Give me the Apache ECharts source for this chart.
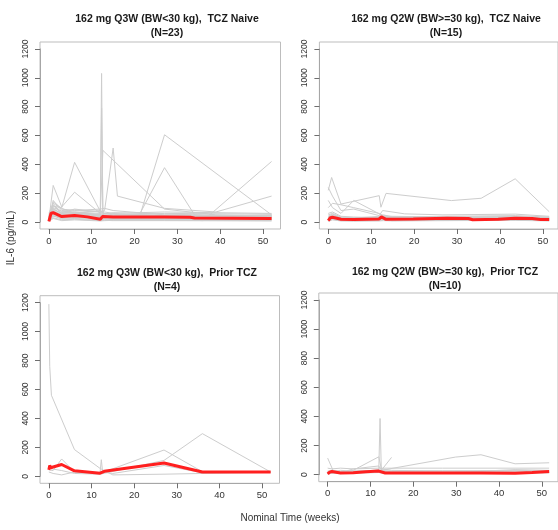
<!DOCTYPE html>
<html>
<head>
<meta charset="utf-8">
<script src="https://cdn.jsdelivr.net/npm/echarts@6/dist/echarts.min.js"></script>
<style>
  html, body { margin: 0; padding: 0; background: #ffffff; }
  #chart { width: 558px; height: 530px; }
</style>
</head>
<body>
<div id="chart"></div>
<script>
// Axis ranges and tick spacing shared by all four panels
const xTickMin = 0, xTickMax = 50, xTickStep = 10;
const yTickMin = 0, yTickMax = 1200, yTickStep = 200;
// Plot frame range (data range padded by 4% on each side)
const xFrame = [-2.08, 54.08];
const yFrame = [-48, 1248];

const panelTitles = [
  '162 mg Q3W (BW<30 kg),  TCZ Naive\n(N=23)',
  '162 mg Q2W (BW>=30 kg),  TCZ Naive\n(N=15)',
  '162 mg Q3W (BW<30 kg),  Prior TCZ\n(N=4)',
  '162 mg Q2W (BW>=30 kg),  Prior TCZ\n(N=10)'
];

// Individual IL-6 profiles, [week, pg/mL]
const q3wNaiveSubjects = [
  [[0,15],[1,60],[3,45],[6,55],[12,40],[12.3,1030],[12.6,45],[15,40],[27,35],[39,30],[52,30]],
  [[0,20],[1,90],[3,60],[6,70],[12,50],[12.3,790],[12.6,60],[15,55],[27,45],[52,40]],
  [[0,25],[1,75],[3,50],[6,60],[12,55],[12.6,497],[27,90],[39,50],[52,45]],
  [[0,30],[1,110],[3,100],[6,414],[12,75],[13,60],[15,50],[27,40],[52,35]],
  [[0,20],[1,254],[3,105],[6,207],[12,60],[13,45],[15,40],[27,30],[52,25]],
  [[0,10],[1,150],[3,80],[6,85],[12,70],[13,80],[15,513],[16,180],[27,95],[39,70],[52,180]],
  [[0,40],[1,120],[3,70],[6,60],[12,45],[13,30],[15,25],[21,20],[27,605],[52,50]],
  [[0,35],[1,95],[3,55],[6,50],[12,40],[15,35],[21,45],[27,377],[34,50],[52,30]],
  [[0,25],[1,70],[3,40],[6,45],[12,30],[15,25],[27,20],[36,10],[52,420]],
  [[0,5],[1,40],[3,30],[6,35],[12,25],[13,30],[15,28],[27,25],[39,20],[52,20]],
  [[0,60],[1,130],[3,90],[6,80],[12,90],[13,95],[15,80],[27,50],[52,40]],
  [[0,10],[1,45],[3,20],[6,25],[12,15],[13,20],[15,18],[27,15],[52,15]],
  [[0,30],[1,85],[3,65],[6,90],[12,70],[13,60],[15,55],[27,45],[39,40],[52,50]],
  [[0,15],[1,55],[3,35],[6,40],[12,20],[13,40],[15,30],[27,30],[52,25]],
  [[0,50],[1,100],[3,75],[6,70],[12,60],[13,50],[15,45],[27,60],[52,55]],
  [[0,8],[1,30],[3,15],[6,20],[12,10],[13,12],[15,10],[27,10],[52,8]],
  [[0,20],[1,65],[3,45],[6,30],[12,35],[13,35],[15,30],[27,40],[39,35],[52,30]],
  [[0,45],[1,115],[3,60],[6,65],[12,80],[13,70],[15,60],[27,70],[52,60]],
  [[0,12],[1,50],[3,25],[6,30],[12,22],[15,20],[27,18],[52,18]],
  [[0,35],[1,80],[3,50],[6,55],[12,45],[13,55],[15,65],[27,55],[52,40]],
  [[0,5],[1,25],[3,10],[6,15],[12,8],[13,10],[15,12],[27,12],[52,10]],
  [[0,28],[1,70],[3,42],[6,40],[12,38],[13,45],[15,40],[27,35],[52,45]],
  [[0,18],[1,140],[3,95],[6,60],[12,50],[13,38],[15,35],[27,28],[52,22]]
];
const q3wNaiveMedian = [[0,5],[0.5,62],[1,65],[3,38],[6,45],[9,36],[12,20],[12.5,38],[15,35],[27,35],[33,33],[34,28],[52,25]];

const q2wNaiveSubjects = [
  [[0,220],[0.8,309],[3,125],[12,183],[12.4,103],[13.6,199],[29,149],[36,165],[44,300],[52,72]],
  [[0,150],[1,100],[3,60],[6,150],[12,57],[13,40],[15,35],[27,30],[52,30]],
  [[0,240],[1,180],[3,80],[6,90],[12,45],[12.8,80],[18,57],[27,50],[44,55],[52,40]],
  [[0,100],[1,130],[3,120],[6,100],[12,60],[13,45],[15,40],[27,35],[52,30]],
  [[0,60],[1,70],[3,40],[6,35],[12,30],[13,35],[15,30],[27,25],[44,40],[52,25]],
  [[0,30],[1,45],[3,25],[6,20],[12,25],[13,30],[15,22],[27,30],[44,28],[52,20]],
  [[0,15],[1,35],[3,18],[6,15],[12,18],[13,25],[15,15],[27,20],[44,22],[52,15]],
  [[0,8],[1,20],[3,10],[6,12],[12,10],[13,15],[15,10],[27,12],[44,15],[52,10]],
  [[0,40],[1,55],[3,30],[6,28],[12,40],[13,50],[15,35],[27,40],[44,45],[52,35]],
  [[0,20],[1,40],[3,15],[6,18],[12,22],[13,28],[15,20],[27,25],[44,20],[52,18]],
  [[0,5],[1,15],[3,8],[6,6],[12,8],[13,10],[15,8],[27,10],[44,12],[52,8]],
  [[0,25],[1,38],[3,20],[6,22],[12,15],[13,20],[15,18],[27,15],[44,30],[52,22]],
  [[0,50],[1,60],[3,35],[6,30],[12,28],[13,35],[15,28],[27,35],[44,38],[52,28]],
  [[0,12],[1,30],[3,22],[6,16],[12,20],[13,18],[15,16],[27,18],[44,18],[52,12]],
  [[0,35],[1,50],[3,28],[6,25],[12,32],[13,40],[15,25],[27,28],[44,25],[52,20]]
];
const q2wNaiveMedian = [[0,10],[0.5,30],[1,33],[3,20],[6,18],[12,22],[12.5,36],[13.5,20],[20,22],[28,26],[33,25],[34,16],[40,20],[44,26],[48,24],[50,18],[52,18]];

const q3wPriorSubjects = [
  [[0,1190],[0.2,760],[0.6,560],[6,185],[12,55],[15,10],[27,15],[36,20],[52,28]],
  [[0,30],[1,20],[3,10],[6,30],[12,20],[27,182],[36,32],[52,30]],
  [[0,60],[1,50],[3,40],[6,20],[12,15],[27,110],[36,295],[52,30]],
  [[0,45],[1,40],[3,120],[6,30],[12,25],[12.3,115],[12.6,30],[15,20],[27,75],[36,25],[52,30]]
];
const q3wPriorMedian = [[0,45],[0.2,75],[0.5,58],[1,65],[3,82],[6,38],[12,22],[13,35],[27,92],[36,30],[52,30]];

const q2wPriorSubjects = [
  [[0,114],[1.3,27],[3,20],[6,25],[12,30],[12.3,386],[12.6,30],[15,20],[27,18],[52,20]],
  [[0,20],[1,25],[3,15],[6,30],[12,123],[12.6,40],[15,30],[27,25],[52,25]],
  [[0,10],[1,15],[3,12],[6,40],[12,60],[12.6,30],[15,119]],
  [[0,15],[1,20],[3,10],[6,15],[12,20],[12.6,30],[30,121],[36,137],[44,75],[52,82]],
  [[0,45],[1,40],[3,45],[6,40],[12,45],[13,45],[27,45],[44,45],[52,45]],
  [[0,25],[1,30],[3,20],[6,20],[12,25],[13,25],[27,27],[52,28]],
  [[0,5],[1,10],[3,8],[6,10],[12,15],[13,10],[27,10],[52,15]],
  [[0,20],[1,18],[3,12],[6,12],[12,35],[13,15],[27,12],[44,35],[52,30]],
  [[0,8],[1,12],[3,15],[6,18],[12,20],[13,12],[27,14],[52,18]],
  [[0,12],[1,22],[3,30],[6,25],[12,28],[13,20],[27,16],[52,12]]
];
const q2wPriorMedian = [[0,5],[0.5,18],[1,22],[3,12],[6,14],[9,20],[12,25],[12.3,30],[13.5,12],[20,12],[36,12],[44,10],[48,15],[52,22]];

const panelSubjects = [q3wNaiveSubjects, q2wNaiveSubjects, q3wPriorSubjects, q2wPriorSubjects];
const panelMedians = [q3wNaiveMedian, q2wNaiveMedian, q3wPriorMedian, q2wPriorMedian];

// Layout of the four plot frames (px)
const boxes = [
  { left: 40, top: 42, width: 240.5, height: 187 },
  { left: 319.4, top: 42, width: 241, height: 187 },
  { left: 40, top: 295.7, width: 239.5, height: 187.6 },
  { left: 318.8, top: 293, width: 240.5, height: 188.7 }
];
const titleCenters = [[162, 7.5], [441, 7.5], [162, 261], [440, 260]];

const FONT = '"Liberation Sans", Arial, sans-serif';
const subjectColor = '#cdcdcd';
const medianColor = '#ff1f1f';
const frameColor = '#bdbdbd';
const axisColor = '#a6a6a6';
const tickColor = '#6e6e6e';

const grids = [], xAxes = [], yAxes = [], series = [], titles = [];

boxes.forEach((b, i) => {
  const xSpan = xFrame[1] - xFrame[0];
  const ySpan = yFrame[1] - yFrame[0];
  // pixel gap between the tick range and the frame edge
  const padLeft = b.width * (xTickMin - xFrame[0]) / xSpan;
  const padBottom = b.height * (yTickMin - yFrame[0]) / ySpan;
  const padTop = b.height * (yFrame[1] - yTickMax) / ySpan;

  // frame grid: carries the data
  const frameIdx = grids.length;
  grids.push({
    left: b.left, top: b.top, width: b.width, height: b.height,
    show: true, borderColor: frameColor, borderWidth: 1, backgroundColor: 'transparent'
  });
  xAxes.push({
    type: 'value', gridIndex: frameIdx, min: xFrame[0], max: xFrame[1],
    axisLine: { show: false, onZero: false }, axisTick: { show: false },
    axisLabel: { show: false }, splitLine: { show: false }
  });
  yAxes.push({
    type: 'value', gridIndex: frameIdx, min: yFrame[0], max: yFrame[1],
    axisLine: { show: false, onZero: false }, axisTick: { show: false },
    axisLabel: { show: false }, splitLine: { show: false }
  });

  // axis grid: spans exactly the tick range, axes pushed out to the frame edges
  const axisIdx = grids.length;
  grids.push({
    left: b.left + padLeft,
    top: b.top + padTop,
    width: b.width * (xTickMax - xTickMin) / xSpan,
    height: b.height * (yTickMax - yTickMin) / ySpan,
    show: false
  });
  xAxes.push({
    type: 'value', gridIndex: axisIdx, min: xTickMin, max: xTickMax, interval: xTickStep,
    position: 'bottom', offset: padBottom,
    axisLine: { show: true, onZero: false, lineStyle: { color: axisColor, width: 1 } },
    axisTick: { show: true, inside: false, length: 5, lineStyle: { color: tickColor, width: 1 } },
    axisLabel: { margin: 7, fontSize: 9.5, color: '#333', fontFamily: FONT, formatter: (v) => String(v) },
    splitLine: { show: false }
  });
  yAxes.push({
    type: 'value', gridIndex: axisIdx, min: yTickMin, max: yTickMax, interval: yTickStep,
    position: 'left', offset: padLeft,
    axisLine: { show: true, onZero: false, lineStyle: { color: axisColor, width: 1 } },
    axisTick: { show: true, inside: false, length: 5, lineStyle: { color: tickColor, width: 1 } },
    axisLabel: { rotate: 90, margin: 10, fontSize: 8.5, color: '#333', fontFamily: FONT, formatter: (v) => String(v) },
    splitLine: { show: false }
  });

  titles.push({
    text: panelTitles[i],
    left: titleCenters[i][0], top: titleCenters[i][1], textAlign: 'center',
    textStyle: { fontSize: 10.5, fontWeight: 'bold', color: '#1a1a1a', fontFamily: FONT, lineHeight: 14 }
  });

  panelSubjects[i].forEach((pts) => {
    series.push({
      type: 'line', xAxisIndex: frameIdx, yAxisIndex: frameIdx, data: pts,
      symbol: 'none', silent: true, animation: false, z: 2,
      lineStyle: { color: subjectColor, width: 1 }
    });
  });
  series.push({
    type: 'line', xAxisIndex: frameIdx, yAxisIndex: frameIdx, data: panelMedians[i],
    symbol: 'none', silent: true, animation: false, z: 5,
    lineStyle: { color: medianColor, width: 3 }
  });
});

const chart = echarts.init(document.getElementById('chart'), null, { renderer: 'canvas' });
chart.setOption({
  backgroundColor: '#ffffff',
  animation: false,
  title: titles,
  grid: grids,
  xAxis: xAxes,
  yAxis: yAxes,
  series: series,
  graphic: [
    {
      type: 'text', x: 11, y: 238, rotation: Math.PI / 2,
      style: { text: 'IL-6 (pg/mL)', fill: '#333', font: '10px ' + FONT, textAlign: 'center', textVerticalAlign: 'middle' }
    },
    {
      type: 'text', x: 290, y: 518,
      style: { text: 'Nominal Time (weeks)', fill: '#333', font: '10px ' + FONT, textAlign: 'center', textVerticalAlign: 'middle' }
    }
  ]
});
</script>
</body>
</html>
